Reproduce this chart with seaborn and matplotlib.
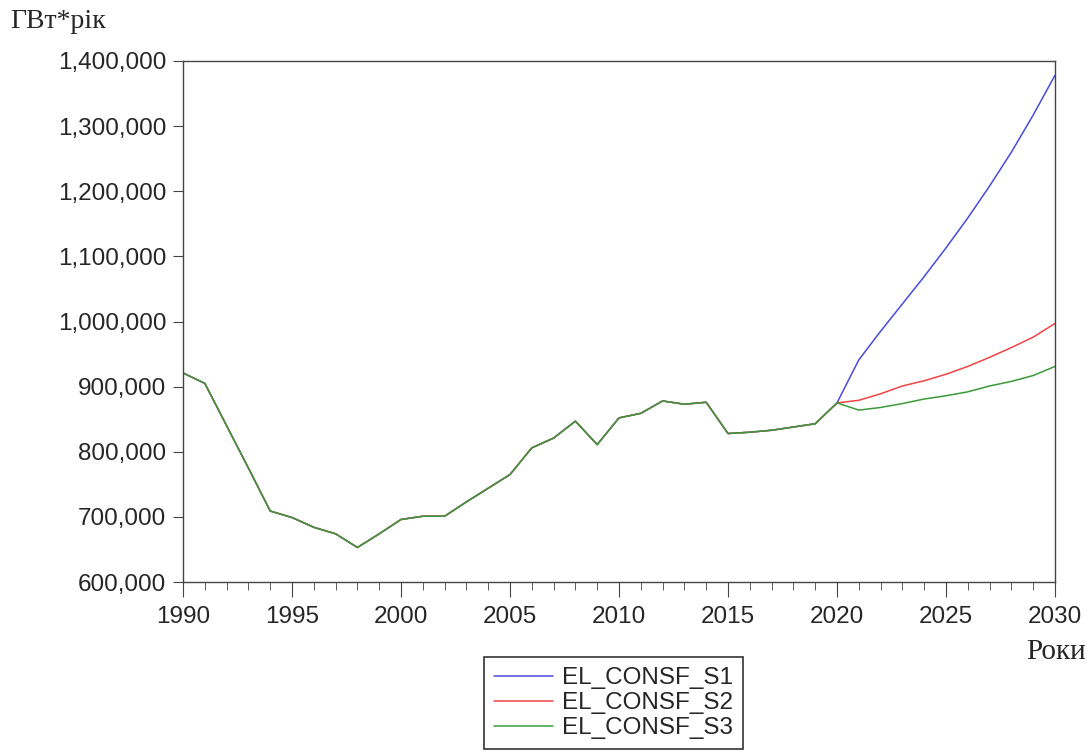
import numpy as np
import pandas as pd
import matplotlib
matplotlib.use('Agg')
import matplotlib.pyplot as plt
from matplotlib.ticker import StrMethodFormatter, MultipleLocator
import seaborn as sns

# Historical consumption 1990-2019 (same for all scenarios), GWh*year
hist_years = list(range(1990, 2020))
hist_values = [921000, 905000, 840000, 775000, 709000, 699000, 684000, 674000, 653000, 674000,
               696000, 701000, 701000, 723000, 744000, 765000, 806000, 821000, 847000, 811000,
               852000, 859000, 878000, 873000, 876000, 828000, 830000, 833000, 838000, 843000]

# Forecast 2020-2030 per scenario
fc_years = list(range(2020, 2031))
s1_values = [875000, 941000, 985000, 1027000, 1069000, 1113000, 1159000, 1208000, 1260000, 1317000, 1378000]
s2_values = [875000, 879000, 889000, 901000, 909000, 919000, 931000, 945000, 960000, 976000, 997000]
s3_values = [875000, 864000, 868000, 874000, 881000, 886000, 892000, 901000, 908000, 917000, 931000]

series_names = ['EL_CONSF_S1', 'EL_CONSF_S2', 'EL_CONSF_S3']
colors = {'EL_CONSF_S1': '#4a4adc', 'EL_CONSF_S2': '#f04444', 'EL_CONSF_S3': '#3a9a3a'}

# build long-form table
frames = []
for name, vals in zip(series_names, [s1_values, s2_values, s3_values]):
    frames.append(pd.DataFrame({'year': hist_years + fc_years,
                                'value': hist_values + vals,
                                'series': name}))
df = pd.concat(frames, ignore_index=True)

sns.set_style('ticks')
plt.rcParams['font.family'] = ['Liberation Sans', 'DejaVu Sans']

fig = plt.figure(figsize=(10.92, 7.54), dpi=100)
ax = fig.add_axes([0.1676, 0.2281, 0.7985, 0.6910])

sns.lineplot(data=df, x='year', y='value', hue='series', palette=colors,
             hue_order=series_names, linewidth=1.1, ax=ax, legend=True)

ax.set_xlim(1990, 2030)
ax.set_ylim(600000, 1400000)
ax.xaxis.set_major_locator(MultipleLocator(5))
ax.xaxis.set_minor_locator(MultipleLocator(1))
ax.yaxis.set_major_locator(MultipleLocator(100000))
ax.yaxis.set_major_formatter(StrMethodFormatter('{x:,.0f}'))
ax.set_xlabel('')
ax.set_ylabel('')

for s in ax.spines.values():
    s.set_visible(True)
    s.set_color('#444444')
    s.set_linewidth(1.0)

ax.tick_params(axis='both', which='major', labelsize=17.5, direction='out', color='#444444')
ax.tick_params(axis='x', which='major', length=11, pad=6)
ax.tick_params(axis='x', which='minor', length=6, color='#444444')
ax.tick_params(axis='y', which='major', length=7, pad=5)

# move legend below the plot, boxed
handles, labels = ax.get_legend_handles_labels()
ax.get_legend().remove()
leg = fig.legend(handles, labels, loc='upper center', bbox_to_anchor=(0.562, 0.128),
                 fontsize=17.5, frameon=True, fancybox=False, edgecolor='black',
                 handlelength=2.4, handletextpad=0.4, labelspacing=0.12,
                 borderpad=0.4, borderaxespad=0)
leg.get_frame().set_linewidth(1.2)

fig.text(0.009, 1 - 22 / 754, 'ГВт*рік', ha='left', va='center', fontsize=20,
         family=['Liberation Serif', 'DejaVu Serif'])
fig.text(0.994, 1 - 652 / 754, 'Роки', ha='right', va='center', fontsize=21,
         family=['Liberation Serif', 'DejaVu Serif'])

fig.savefig('out.png', dpi=100)
